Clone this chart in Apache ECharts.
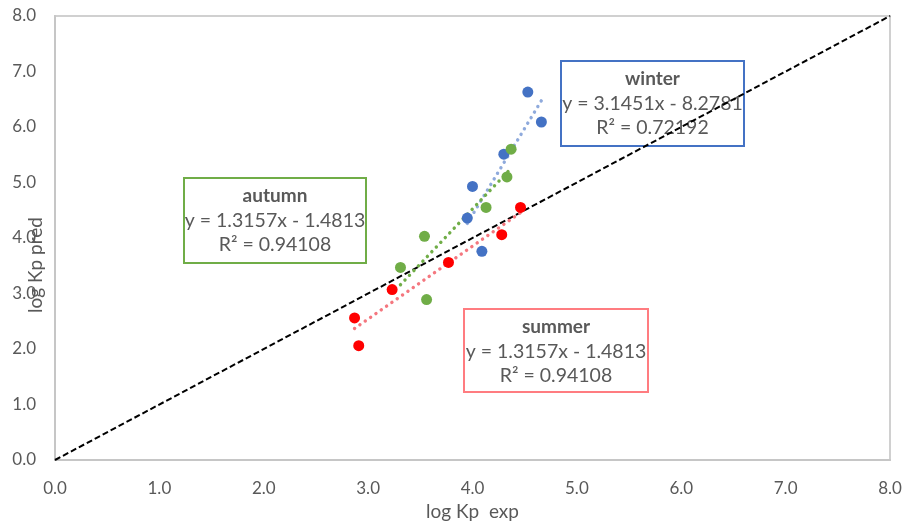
<!DOCTYPE html>
<html>
<head>
<meta charset="utf-8">
<script src="https://cdn.jsdelivr.net/npm/echarts@6/dist/echarts.min.js"></script>
<style>
  html, body { margin: 0; padding: 0; background: #fff; }
  #chart { width: 906px; height: 522px; }
</style>
</head>
<body>
<div id="chart"></div>
<script>
// Measured partition coefficients (log Kp) vs. model predictions, by season
const winterExp  = [4.53, 4.66, 4.30, 4.00, 3.95, 4.09];
const winterPred = [6.63, 6.09, 5.51, 4.93, 4.36, 3.76];

const autumnExp  = [4.37, 4.33, 4.13, 3.54, 3.31, 3.56];
const autumnPred = [5.60, 5.10, 4.55, 4.03, 3.47, 2.89];

const summerExp  = [2.87, 2.91, 3.23, 3.77, 4.28, 4.46];
const summerPred = [2.56, 2.06, 3.07, 3.56, 4.06, 4.55];

// 1:1 reference line
const identityLine = [0, 8];

// Regression labels shown in the boxes
const winterLabel = ['winter', 'y = 3.1451x - 8.2781', 'R\u00B2 = 0.72192'];
const autumnLabel = ['autumn', 'y = 1.3157x - 1.4813', 'R\u00B2 = 0.94108'];
const summerLabel = ['summer', 'y = 1.3157x - 1.4813', 'R\u00B2 = 0.94108'];

const FONT = 'Lato, "Open Sans", sans-serif';
const GREY_TEXT = '#595959';

function pairs(xs, ys) { return xs.map((x, i) => [x, ys[i]]); }

// Least-squares linear trend across the observed x range
function trend(xs, ys) {
  const n = xs.length;
  const mx = xs.reduce((a, b) => a + b, 0) / n;
  const my = ys.reduce((a, b) => a + b, 0) / n;
  let sxy = 0, sxx = 0;
  for (let i = 0; i < n; i++) {
    sxy += (xs[i] - mx) * (ys[i] - my);
    sxx += (xs[i] - mx) * (xs[i] - mx);
  }
  const k = sxy / sxx, b = my - k * mx;
  const lo = Math.min(...xs), hi = Math.max(...xs);
  return [[lo, k * lo + b], [hi, k * hi + b]];
}

function trendSeries(name, xs, ys, color) {
  return {
    name: name + ' trend', type: 'line', data: trend(xs, ys),
    symbol: 'none', silent: true, z: 2,
    lineStyle: { color: color, width: 3.4, type: [0.1, 6.4], cap: 'round' }
  };
}

function pointSeries(name, xs, ys, color, z) {
  return {
    name: name, type: 'scatter', data: pairs(xs, ys),
    symbol: 'circle', symbolSize: 11, z: z,
    itemStyle: { color: color, opacity: 1 }
  };
}

function labelBox(x, y, w, h, color, lines) {
  const cx = w / 2;
  return {
    type: 'group', left: x, top: y, z: 20,
    children: [
      { type: 'rect', shape: { x: 0, y: 0, width: w, height: h },
        style: { fill: '#fff', stroke: color, lineWidth: 2 } },
      { type: 'text', x: cx, y: 18, style: { text: lines[0], font: 'bold 19px ' + FONT, fill: GREY_TEXT, align: 'center', verticalAlign: 'middle' } },
      { type: 'text', x: cx, y: 43, style: { text: lines[1], font: '19.5px ' + FONT, fill: GREY_TEXT, align: 'center', verticalAlign: 'middle' } },
      { type: 'text', x: cx, y: 67, style: { text: lines[2], font: '19.5px ' + FONT, fill: GREY_TEXT, align: 'center', verticalAlign: 'middle' } }
    ]
  };
}

const chart = echarts.init(document.getElementById('chart'), null, { renderer: 'canvas' });

const axisCommon = {
  type: 'value', min: 0, max: 8, interval: 1,
  splitLine: { show: false },
  axisTick: { show: false },
  axisLine: { show: true, lineStyle: { color: '#c6c6c6', width: 2 } },
  axisLabel: { color: GREY_TEXT, fontFamily: FONT, fontSize: 17, formatter: v => v.toFixed(1) }
};

chart.setOption({
  animation: false,
  backgroundColor: '#fff',
  grid: {
    left: 55, right: 16, top: 16, bottom: 62,
    outerBoundsMode: 'none', containLabel: false,
    show: true, borderColor: '#d0d0d0', borderWidth: 2
  },
  xAxis: Object.assign({}, axisCommon, {
    name: 'log Kp  exp', nameLocation: 'middle', nameGap: 37,
    nameTextStyle: { color: GREY_TEXT, fontFamily: FONT, fontSize: 19 },
    axisLabel: Object.assign({}, axisCommon.axisLabel, { margin: 20 })
  }),
  yAxis: Object.assign({}, axisCommon, {
    axisLabel: Object.assign({}, axisCommon.axisLabel, { margin: 19 })
  }),
  graphic: [
    { type: 'text', x: 36, y: 265, rotation: Math.PI / 2, z: 10,
      style: { text: 'log Kp pred', font: '19px ' + FONT, fill: GREY_TEXT, align: 'center', verticalAlign: 'middle' } },
    labelBox(560, 60, 183, 85, '#4472c4', winterLabel),
    labelBox(183, 177, 182, 85, '#70ad47', autumnLabel),
    labelBox(463, 308, 184, 83, '#ff7c80', summerLabel)
  ],
  series: [
    {
      name: '1:1', type: 'line', data: identityLine.map(v => [v, v]),
      symbol: 'none', silent: true, z: 1,
      lineStyle: { color: '#000', width: 2, type: [6, 3] }
    },
    trendSeries('winter', winterExp, winterPred, '#8faadc'),
    trendSeries('autumn', autumnExp, autumnPred, '#70ad47'),
    trendSeries('summer', summerExp, summerPred, '#f4777f'),
    pointSeries('winter', winterExp, winterPred, '#4472c4', 5),
    pointSeries('autumn', autumnExp, autumnPred, '#70ad47', 6),
    pointSeries('summer', summerExp, summerPred, '#ff0000', 7)
  ]
});
</script>
</body>
</html>
